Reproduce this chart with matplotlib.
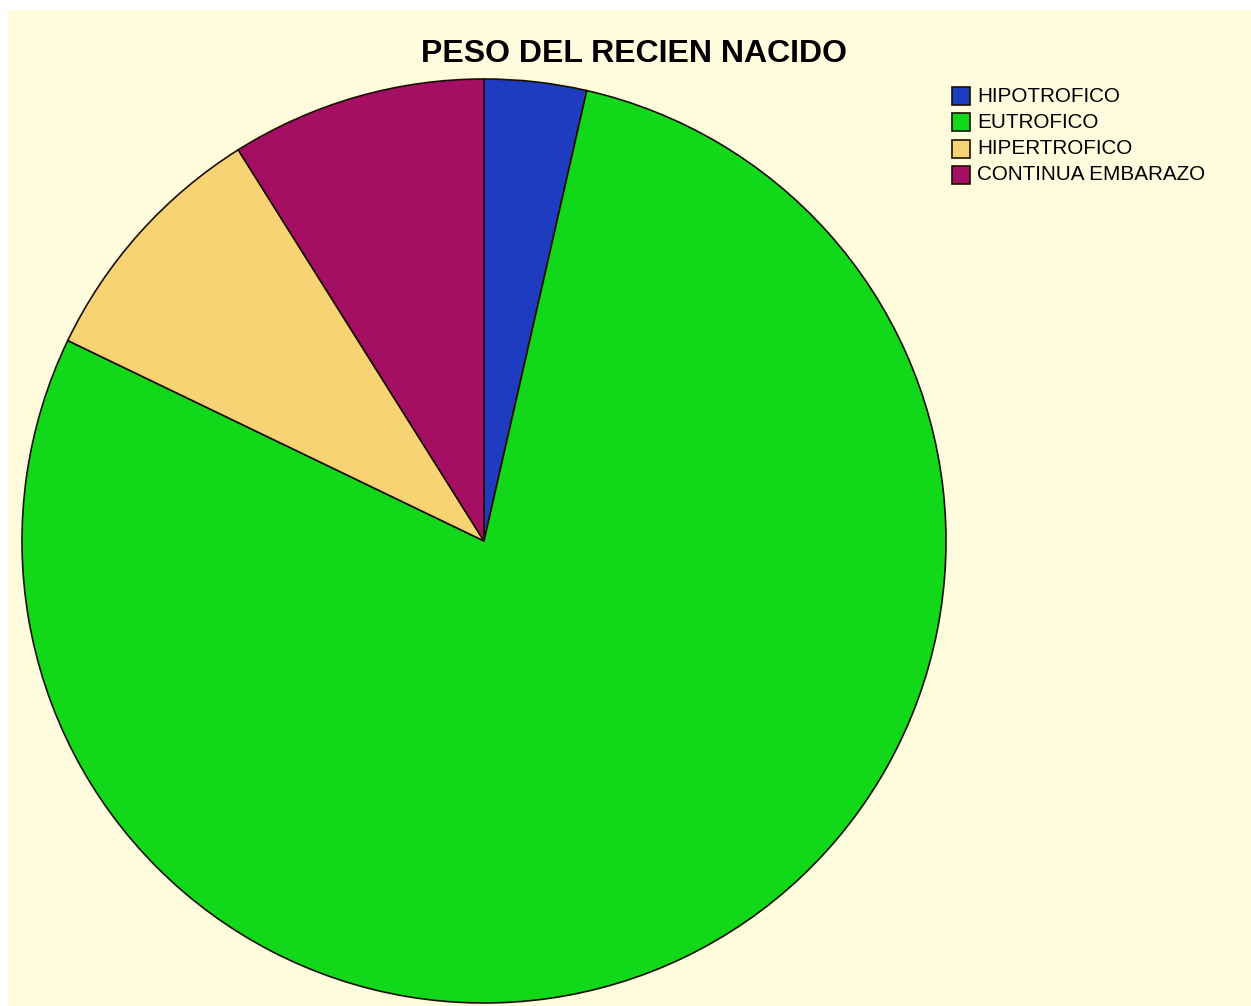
import matplotlib
matplotlib.use("Agg")
import matplotlib.pyplot as plt
from matplotlib.patches import Rectangle

categories = ["HIPOTROFICO", "EUTROFICO", "HIPERTROFICO", "CONTINUA EMBARAZO"]
counts = [2, 44, 5, 5]
colors = ["#1E3CC0", "#11D91A", "#F7D374", "#A50F63"]
title = "PESO DEL RECIEN NACIDO"

W, H = 1251, 1006
fig = plt.figure(figsize=(W / 100, H / 100), dpi=100)
fig.patch.set_facecolor("white")

# cream panel behind everything
fig.patches.append(Rectangle((8 / W, 0), 1 - 8 / W, 1 - 10 / H,
                             transform=fig.transFigure, facecolor="#FFFBDD",
                             edgecolor="none", zorder=-5))

cx, cy, r = 484, 541, 462
ax = fig.add_axes([(cx - r) / W, (H - cy - r) / H, 2 * r / W, 2 * r / H])
ax.set_zorder(2)
ax.set_facecolor("none")
wedges, _ = ax.pie(counts, colors=colors, startangle=90, counterclock=False,
                   radius=1.0,
                   wedgeprops=dict(edgecolor="#1a0f00", linewidth=1.2))
ax.set_xlim(-1.0, 1.0)
ax.set_ylim(-1.0, 1.0)
ax.set_aspect("equal")
ax.axis("off")

fig.text(634 / W, 1 - 54 / H, title, ha="center", va="center",
         fontsize=23, fontweight="bold", family="Liberation Sans", color="black",
         zorder=5)

# legend
y0 = 96
dy = 26.3
for i, (lab, col) in enumerate(zip(categories, colors)):
    y = y0 + i * dy
    fig.patches.append(Rectangle((952 / W, 1 - (y + 9) / H), 18 / W, 18 / H,
                                 transform=fig.transFigure, facecolor=col,
                                 edgecolor="#1a0f00", linewidth=1.2, zorder=5))
    fig.text(977 / W, 1 - y / H, lab, ha="left", va="center",
             fontsize=14.9, family="Liberation Sans", color="black", zorder=5)

fig.savefig("out.png", dpi=100, facecolor=fig.get_facecolor())
